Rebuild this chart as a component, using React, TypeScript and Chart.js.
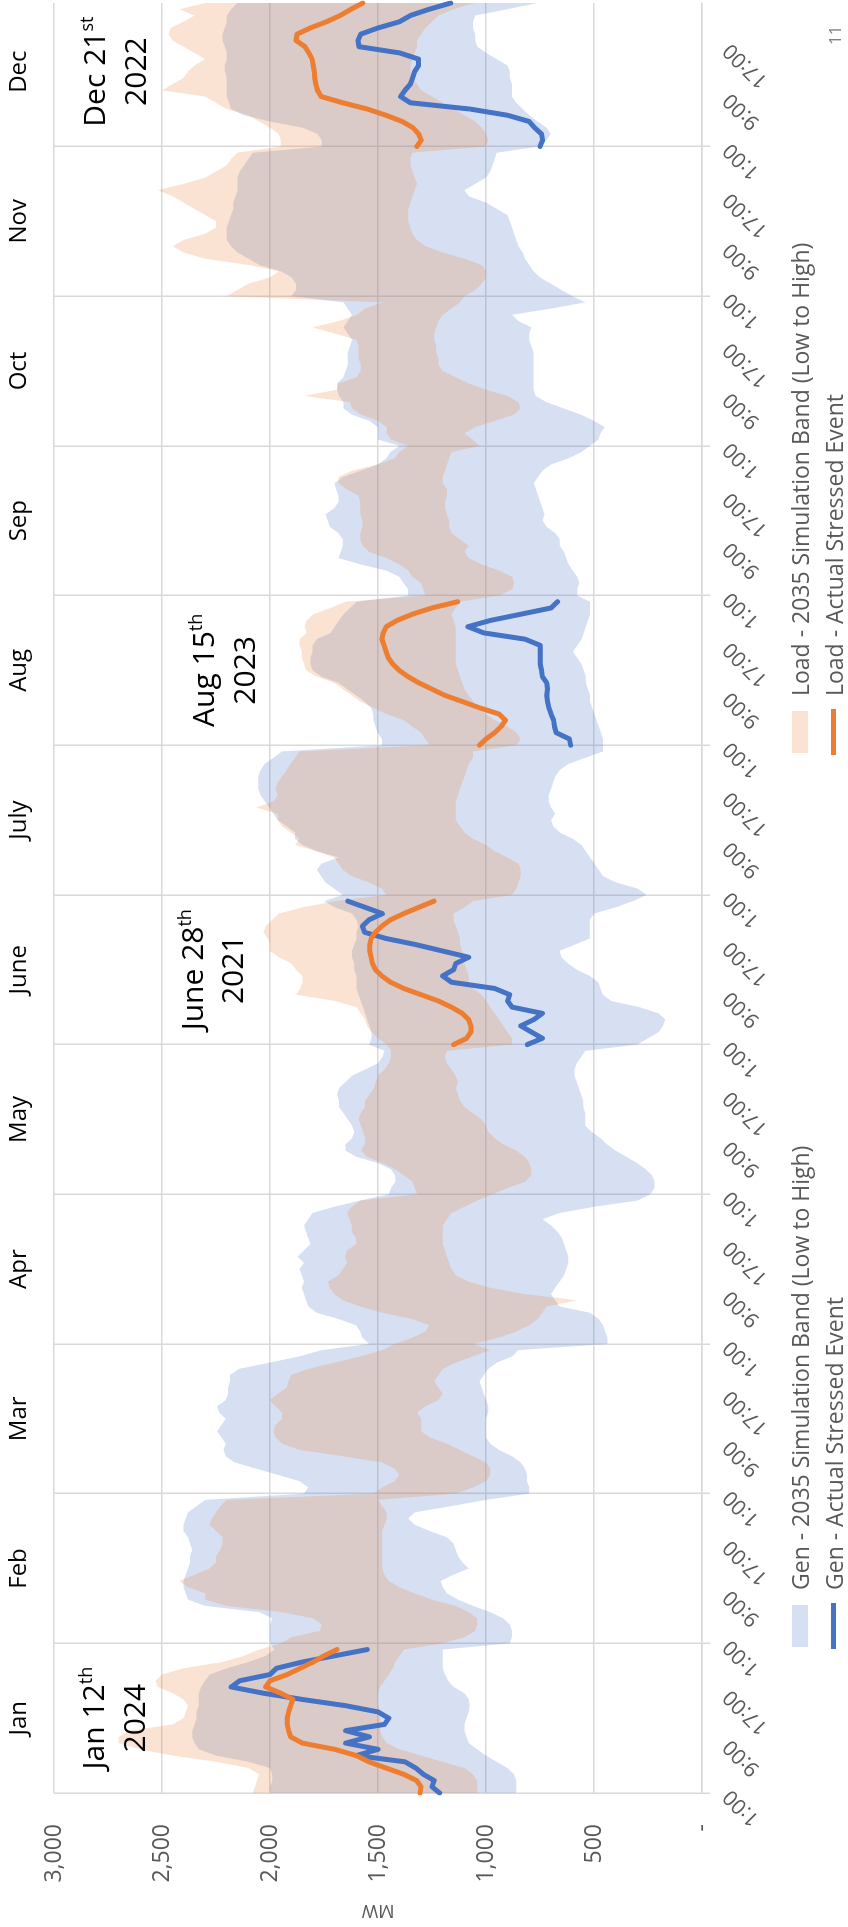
import React, { useEffect, useRef } from "react";
import { Chart, registerables } from "chart.js";

Chart.register(...registerables);
Chart.defaults.font.family = "'Open Sans', 'DejaVu Sans', sans-serif";

// ---------- categories / tick labels ----------
const MONTHS = ["Jan", "Feb", "Mar", "Apr", "May", "June", "July", "Aug", "Sep", "Oct", "Nov", "Dec"];
const HOUR_LABELS = [
  "1:00", "2:00", "3:00", "4:00", "5:00", "6:00", "7:00", "8:00", "9:00", "10:00", "11:00", "12:00",
  "13:00", "14:00", "15:00", "16:00", "17:00", "18:00", "19:00", "20:00", "21:00", "22:00", "23:00", "24:00",
];
const Y_TICKS = [0, 500, 1000, 1500, 2000, 2500, 3000];

// ---------- 2035 simulation bands (MW), 24 hourly values per month ----------
const GEN_LOW = [
  860, 860, 860, 870, 900, 950, 1000, 1040, 1080, 1090, 1100, 1100, 1090, 1080, 1075, 1080, 1100, 1150, 1175, 1190, 1200, 1200, 1200, 1200, // Jan
  890, 880, 880, 890, 920, 980, 1060, 1130, 1180, 1200, 1210, 1150, 1080, 1110, 1130, 1140, 1150, 1180, 1260, 1330, 1360, 1330, 1160, 1000, // Feb
  800, 800, 810, 810, 820, 840, 880, 940, 980, 1000, 1000, 1000, 1000, 990, 990, 1000, 1010, 1020, 1030, 1010, 990, 950, 880, 850, // Mar
  438, 438, 448, 458, 478, 518, 659, 679, 699, 679, 659, 639, 629, 619, 619, 629, 639, 649, 669, 699, 739, 659, 498, 297, // Apr
  240, 220, 220, 230, 260, 300, 350, 400, 440, 470, 510, 540, 540, 540, 550, 550, 560, 570, 580, 590, 590, 580, 560, 540, // May
  300, 250, 200, 180, 170, 200, 290, 420, 460, 470, 480, 520, 580, 620, 650, 660, 590, 520, 520, 520, 520, 500, 400, 320, // June
  257, 297, 398, 458, 478, 498, 518, 538, 558, 598, 659, 689, 699, 679, 699, 709, 709, 699, 689, 679, 659, 618, 538, 458, // July
  458, 458, 468, 478, 488, 498, 508, 518, 518, 528, 538, 538, 548, 558, 578, 598, 578, 558, 548, 538, 528, 518, 518, 518, // Aug
  578, 578, 568, 578, 598, 618, 629, 639, 659, 659, 679, 719, 739, 729, 739, 749, 759, 769, 779, 759, 739, 699, 618, 558, // Sep
  520, 480, 470, 450, 500, 560, 640, 720, 770, 780, 780, 780, 780, 780, 780, 780, 790, 800, 800, 790, 850, 880, 700, 540, // Oct
  600, 650, 700, 750, 780, 800, 820, 830, 850, 860, 870, 880, 890, 900, 950, 1000, 1080, 1100, 1050, 1000, 980, 970, 960, 950, // Nov
  750, 720, 700, 720, 760, 800, 830, 860, 880, 880, 880, 890, 890, 900, 950, 1000, 1040, 1050, 1050, 1060, 1060, 1050, 900, 760, // Dec
];
const GEN_HIGH = [
  2000, 2000, 1990, 1990, 2000, 2100, 2250, 2330, 2350, 2360, 2360, 2350, 2340, 2340, 2330, 2330, 2330, 2320, 2300, 2280, 2200, 2100, 2020, 1980, // Jan
  2000, 2000, 2000, 2000, 1990, 2050, 2300, 2380, 2390, 2400, 2400, 2390, 2380, 2370, 2370, 2360, 2370, 2380, 2400, 2400, 2390, 2380, 2340, 2300, // Feb
  1843, 1823, 1863, 1963, 2064, 2164, 2205, 2215, 2205, 2225, 2245, 2225, 2205, 2235, 2245, 2205, 2195, 2195, 2185, 2185, 2145, 2004, 1863, 1763, // Mar
  1542, 1572, 1582, 1602, 1683, 1783, 1823, 1833, 1843, 1853, 1843, 1853, 1863, 1843, 1873, 1843, 1813, 1823, 1833, 1843, 1823, 1803, 1703, 1582, // Apr
  1450, 1440, 1420, 1420, 1440, 1500, 1600, 1650, 1650, 1620, 1610, 1620, 1640, 1660, 1680, 1680, 1690, 1680, 1650, 1620, 1560, 1500, 1480, 1470, // May
  1540, 1530, 1530, 1540, 1550, 1560, 1570, 1580, 1590, 1600, 1600, 1600, 1610, 1610, 1620, 1620, 1610, 1600, 1600, 1590, 1600, 1620, 1700, 1750, // June
  1663, 1703, 1743, 1763, 1783, 1763, 1683, 1783, 1850, 1884, 1884, 1924, 1964, 1984, 2004, 2024, 2044, 2054, 2054, 2054, 2044, 2024, 1984, 1944, // July
  1482, 1482, 1502, 1512, 1522, 1522, 1532, 1562, 1602, 1643, 1683, 1763, 1803, 1813, 1813, 1803, 1803, 1783, 1720, 1700, 1680, 1660, 1630, 1600, // Aug
  1361, 1361, 1382, 1402, 1462, 1582, 1683, 1673, 1663, 1663, 1683, 1723, 1733, 1743, 1703, 1683, 1683, 1693, 1703, 1663, 1582, 1502, 1462, 1442, // Sep
  1400, 1500, 1500, 1500, 1540, 1620, 1660, 1660, 1680, 1690, 1690, 1660, 1650, 1640, 1640, 1640, 1630, 1620, 1640, 1660, 1640, 1620, 1640, 1660, // Oct
  1900, 1880, 1880, 1900, 1950, 2050, 2100, 2150, 2180, 2200, 2200, 2200, 2190, 2180, 2170, 2170, 2160, 2150, 2150, 2150, 2140, 2120, 2100, 2080, // Nov
  1760, 1760, 1780, 1850, 2000, 2120, 2180, 2190, 2200, 2200, 2200, 2200, 2210, 2210, 2200, 2200, 2210, 2220, 2220, 2210, 2200, 2200, 2180, 2150, // Dec
];
const LOAD_LOW = [
  1040, 1040, 1040, 1060, 1100, 1200, 1300, 1400, 1460, 1480, 1490, 1490, 1490, 1490, 1500, 1500, 1500, 1490, 1470, 1450, 1430, 1420, 1400, 1380, // Jan
  1200, 1100, 1050, 1040, 1040, 1080, 1140, 1250, 1330, 1400, 1450, 1470, 1480, 1480, 1480, 1480, 1480, 1480, 1480, 1470, 1460, 1460, 1480, 1500, // Feb
  1140, 1060, 1000, 980, 980, 1000, 1060, 1120, 1180, 1260, 1300, 1300, 1300, 1320, 1280, 1220, 1200, 1220, 1240, 1220, 1200, 1140, 1060, 980, // Mar
  1060, 940, 860, 800, 760, 740, 720, 578, 820, 980, 1080, 1140, 1160, 1170, 1180, 1190, 1200, 1200, 1200, 1200, 1180, 1160, 1100, 1040, // Apr
  970, 900, 820, 790, 790, 800, 820, 860, 920, 960, 990, 1000, 1020, 1060, 1100, 1120, 1130, 1140, 1130, 1140, 1160, 1180, 1190, 1180, // May
  880, 880, 900, 920, 940, 960, 980, 1000, 1020, 1060, 1080, 1080, 1090, 1100, 1100, 1110, 1120, 1120, 1130, 1140, 1150, 1150, 1100, 1060, // June
  880, 859, 849, 839, 839, 849, 900, 960, 1000, 1060, 1100, 1120, 1140, 1140, 1140, 1140, 1130, 1120, 1110, 1100, 1090, 1080, 1060, 1060, // July
  859, 839, 859, 900, 960, 1000, 1040, 1060, 1080, 1100, 1110, 1120, 1130, 1140, 1140, 1140, 1140, 1140, 1140, 1140, 1150, 1160, 1140, 1120, // Aug
  940, 879, 869, 879, 940, 1020, 1080, 1100, 1080, 1120, 1160, 1170, 1170, 1180, 1190, 1190, 1180, 1180, 1200, 1200, 1190, 1180, 1170, 1160, // Sep
  1030, 1060, 1100, 1050, 960, 870, 840, 850, 900, 1000, 1080, 1140, 1200, 1220, 1220, 1230, 1230, 1240, 1240, 1230, 1220, 1200, 1160, 1120, // Oct
  1100, 1050, 1020, 1000, 1000, 1020, 1100, 1200, 1280, 1320, 1340, 1350, 1360, 1360, 1360, 1350, 1340, 1330, 1320, 1330, 1340, 1350, 1350, 1340, // Nov
  1000, 990, 1000, 1020, 1050, 1100, 1150, 1200, 1250, 1300, 1320, 1340, 1350, 1350, 1340, 1330, 1320, 1320, 1300, 1280, 1250, 1220, 1150, 1050, // Dec
];
const LOAD_HIGH = [
  2080, 2070, 2060, 2050, 2100, 2250, 2450, 2600, 2700, 2700, 2650, 2450, 2400, 2390, 2380, 2400, 2450, 2520, 2530, 2500, 2400, 2220, 2120, 2050, // Jan
  1950, 1900, 1770, 1760, 1800, 1950, 2200, 2300, 2300, 2380, 2420, 2350, 2280, 2250, 2250, 2230, 2220, 2220, 2250, 2280, 2270, 2250, 2230, 2200, // Feb
  1522, 1482, 1422, 1402, 1422, 1482, 1663, 1863, 1944, 1974, 1984, 1974, 1944, 1944, 1974, 2004, 1964, 1924, 1914, 1904, 1823, 1703, 1582, 1482, // Mar
  1422, 1341, 1281, 1261, 1341, 1482, 1582, 1663, 1703, 1723, 1733, 1683, 1663, 1643, 1653, 1643, 1602, 1602, 1622, 1622, 1632, 1643, 1622, 1582, // Apr
  1320, 1330, 1340, 1380, 1420, 1480, 1550, 1580, 1560, 1560, 1570, 1580, 1590, 1580, 1560, 1560, 1540, 1520, 1510, 1500, 1470, 1450, 1440, 1440, // May
  1460, 1500, 1530, 1550, 1560, 1580, 1600, 1700, 1880, 1860, 1850, 1850, 1880, 1900, 1960, 2000, 2000, 2010, 2030, 2020, 1990, 1960, 1850, 1700, // June
  1462, 1482, 1542, 1622, 1663, 1683, 1703, 1783, 1884, 1863, 1904, 1944, 1964, 1964, 2064, 1984, 1964, 1974, 1964, 1944, 1924, 1904, 1884, 1863, // July
  1261, 1281, 1301, 1341, 1381, 1462, 1522, 1582, 1622, 1663, 1703, 1783, 1833, 1843, 1853, 1853, 1863, 1863, 1830, 1840, 1830, 1800, 1720, 1650, // Aug
  1281, 1290, 1301, 1341, 1361, 1402, 1462, 1542, 1572, 1582, 1582, 1572, 1572, 1582, 1582, 1582, 1592, 1643, 1683, 1683, 1622, 1502, 1422, 1402, // Sep
  1360, 1440, 1460, 1460, 1500, 1580, 1620, 1630, 1843, 1690, 1683, 1600, 1580, 1580, 1590, 1590, 1590, 1600, 1700, 1803, 1680, 1600, 1560, 1480, // Oct
  2200, 2150, 2100, 2000, 1960, 2100, 2300, 2400, 2450, 2400, 2300, 2250, 2250, 2300, 2350, 2400, 2450, 2520, 2400, 2300, 2250, 2200, 2180, 2150, // Nov
  1950, 1950, 1960, 2000, 2050, 2100, 2200, 2250, 2300, 2500, 2450, 2400, 2380, 2350, 2300, 2350, 2400, 2450, 2470, 2460, 2400, 2350, 2420, 2300, // Dec
];

// ---------- actual stressed events (MW), one day each ----------
const EVENT_MONTHS = [0, 5, 7, 11]; // Jan, June, Aug, Dec
const GEN_EVENT_JAN = [1215, 1250, 1240, 1290, 1325, 1375, 1600, 1500, 1650, 1540, 1650, 1470, 1450, 1500, 1650, 1850, 2030, 2180, 2140, 2000, 1970, 1850, 1700, 1550];
const GEN_EVENT_JUN = [809, 739, 789, 839, 779, 739, 879, 900, 890, 960, 1160, 1201, 1150, 1140, 1080, 1201, 1321, 1462, 1562, 1572, 1542, 1480, 1560, 1640];
const GEN_EVENT_AUG = [608, 614, 675, 683, 687, 699, 709, 715, 719, 715, 719, 739, 743, 749, 749, 749, 749, 819, 1010, 1084, 980, 839, 699, 669];
const GEN_EVENT_DEC = [750, 738, 743, 775, 800, 900, 1075, 1350, 1395, 1375, 1350, 1340, 1330, 1312, 1312, 1400, 1588, 1593, 1580, 1500, 1400, 1350, 1263, 1163];
const LOAD_EVENT_JAN = [1305, 1301, 1321, 1381, 1462, 1542, 1600, 1700, 1850, 1904, 1914, 1920, 1920, 1914, 1904, 1894, 1950, 2020, 2000, 1920, 1860, 1800, 1750, 1690];
const LOAD_EVENT_JUN = [1150, 1090, 1070, 1070, 1080, 1110, 1160, 1221, 1301, 1381, 1442, 1482, 1512, 1526, 1532, 1538, 1538, 1532, 1512, 1482, 1442, 1381, 1311, 1241];
const LOAD_EVENT_AUG = [1030, 1000, 960, 930, 910, 940, 1030, 1110, 1191, 1251, 1311, 1361, 1402, 1432, 1452, 1462, 1472, 1482, 1476, 1462, 1412, 1341, 1251, 1131];
const LOAD_EVENT_DEC = [1320, 1300, 1312, 1338, 1388, 1463, 1550, 1663, 1763, 1780, 1788, 1793, 1795, 1800, 1805, 1820, 1838, 1880, 1875, 1813, 1738, 1675, 1625, 1570];
const GEN_EVENTS = [GEN_EVENT_JAN, GEN_EVENT_JUN, GEN_EVENT_AUG, GEN_EVENT_DEC];
const LOAD_EVENTS = [LOAD_EVENT_JAN, LOAD_EVENT_JUN, LOAD_EVENT_AUG, LOAD_EVENT_DEC];

// ---------- event annotations ----------
const NOTE_MAIN = ["Jan 12", "June 28", "Aug 15", "Dec 21"];
const NOTE_SUP = ["th", "th", "th", "st"];
const NOTE_YEAR = ["2024", "2021", "2023", "2022"];
const NOTE_MW_LINE1 = [2769, 2310, 2259, 2764];
const NOTE_MW_LINE2 = [2579, 2125, 2069, 2574];

// ---------- names & styles ----------
const SERIES_NAMES = [
  "Gen - 2035 Simulation Band (Low to High)",
  "Gen - Actual Stressed Event",
  "Load - 2035 Simulation Band (Low to High)",
  "Load - Actual Stressed Event",
];
const BLUE = "#4472C4";
const ORANGE = "#ED7D31";
const GEN_FILL = "rgba(68,114,196,0.22)";
const LOAD_FILL = "rgba(237,125,49,0.21)";
const GRID = "#d9d9d9";
const TEXT_GRAY = "#595959";
const NONE = "rgba(0,0,0,0)";

// build table from the arrays above
const LABELS: string[] = MONTHS.flatMap((m) => HOUR_LABELS.map((h) => `${m} ${h}`));
function eventSeries(events: number[][]): (number | null)[] {
  return MONTHS.flatMap((_, mi) => {
    const k = EVENT_MONTHS.indexOf(mi);
    return HOUR_LABELS.map((_, hi) => (k >= 0 ? events[k][hi] : null));
  });
}

const notesPlugin = {
  id: "eventNotes",
  afterDatasetsDraw(chart: any) {
    const ctx = chart.ctx as CanvasRenderingContext2D;
    const xs = chart.scales.x;
    const ys = chart.scales.y;
    ctx.save();
    ctx.fillStyle = "#000";
    ctx.textBaseline = "alphabetic";
    EVENT_MONTHS.forEach((m, i) => {
      const cx = xs.getPixelForValue(m * HOUR_LABELS.length + 12);
      const y1 = ys.getPixelForValue(NOTE_MW_LINE1[i]);
      const y2 = ys.getPixelForValue(NOTE_MW_LINE2[i]);
      ctx.font = "30px 'Open Sans'";
      const wMain = ctx.measureText(NOTE_MAIN[i]).width;
      ctx.font = "18px 'Open Sans'";
      const wSup = ctx.measureText(NOTE_SUP[i]).width;
      const x0 = cx - (wMain + wSup) / 2;
      ctx.textAlign = "left";
      ctx.font = "30px 'Open Sans'";
      ctx.fillText(NOTE_MAIN[i], x0, y1);
      ctx.font = "18px 'Open Sans'";
      ctx.fillText(NOTE_SUP[i], x0 + wMain, y1 - 12);
      ctx.font = "30px 'Open Sans'";
      ctx.textAlign = "center";
      ctx.fillText(NOTE_YEAR[i], cx, y2);
    });
    ctx.restore();
  },
};

export default function App() {
  const canvasRef = useRef<HTMLCanvasElement>(null);

  useEffect(() => {
    const hours = HOUR_LABELS.length;
    const chart = new Chart(canvasRef.current as HTMLCanvasElement, {
      type: "line",
      data: {
        labels: LABELS,
        datasets: [
          { label: "gen-low", data: GEN_LOW, borderColor: NONE, borderWidth: 0, pointRadius: 0, fill: false, order: 4 },
          { label: SERIES_NAMES[0], data: GEN_HIGH, borderColor: NONE, borderWidth: 0, pointRadius: 0, backgroundColor: GEN_FILL, fill: "-1", order: 4 },
          { label: "load-low", data: LOAD_LOW, borderColor: NONE, borderWidth: 0, pointRadius: 0, fill: false, order: 3 },
          { label: SERIES_NAMES[2], data: LOAD_HIGH, borderColor: NONE, borderWidth: 0, pointRadius: 0, backgroundColor: LOAD_FILL, fill: "-1", order: 3 },
          { label: SERIES_NAMES[1], data: eventSeries(GEN_EVENTS), borderColor: BLUE, borderWidth: 5, pointRadius: 0, fill: false, spanGaps: false, order: 2, borderJoinStyle: "round", borderCapStyle: "round" },
          { label: SERIES_NAMES[3], data: eventSeries(LOAD_EVENTS), borderColor: ORANGE, borderWidth: 5, pointRadius: 0, fill: false, spanGaps: false, order: 1, borderJoinStyle: "round", borderCapStyle: "round" },
        ] as any,
      },
      options: {
        animation: false,
        responsive: false,
        events: [],
        layout: { padding: { left: 0, right: 3, top: 0, bottom: 66 } },
        plugins: { legend: { display: false }, tooltip: { enabled: false } },
        elements: { line: { tension: 0 } },
        scales: {
          x: {
            type: "category",
            position: "bottom",
            offset: false,
            border: { display: true, color: GRID, width: 1.5 },
            grid: {
              offset: false,
              lineWidth: 1.5,
              tickLength: 8,
              color: (c: any) => (c.tick && Number(c.tick.value) % hours === 0 ? GRID : NONE),
            },
            ticks: {
              autoSkip: false,
              minRotation: 45,
              maxRotation: 45,
              padding: 8,
              color: TEXT_GRAY,
              font: { size: 21 },
              callback: (_v: any, i: number) => (i % 8 === 0 ? HOUR_LABELS[i % hours] : null),
            },
            afterFit: (s: any) => {
              s.height = 80;
            },
          },
          x2: {
            type: "category",
            position: "top",
            offset: false,
            grid: { display: false },
            border: { display: false },
            ticks: {
              autoSkip: false,
              minRotation: 0,
              maxRotation: 0,
              padding: 12,
              color: "#000",
              font: { size: 24 },
              callback: (_v: any, i: number) => (i % hours === 12 ? MONTHS[Math.floor(i / hours)] : null),
            },
            afterFit: (s: any) => {
              s.height = 54;
            },
          },
          y: {
            min: Y_TICKS[0],
            max: Y_TICKS[Y_TICKS.length - 1],
            border: { display: false },
            grid: { color: GRID, lineWidth: 1.5, drawTicks: false },
            ticks: {
              stepSize: Y_TICKS[1] - Y_TICKS[0],
              padding: 31,
              color: TEXT_GRAY,
              font: { size: 23 },
              callback: (v: any) => (Number(v) === 0 ? "-" : Number(v).toLocaleString("en-US")),
            },
            title: { display: true, text: "MW", color: TEXT_GRAY, font: { size: 18 }, padding: { top: 6, bottom: 0 } },
            afterFit: (s: any) => {
              s.width = 134;
            },
          },
        },
      } as any,
      plugins: [notesPlugin],
    });
    return () => chart.destroy();
  }, []);

  const legendText: React.CSSProperties = {
    position: "absolute",
    fontSize: 23,
    lineHeight: "30px",
    color: TEXT_GRAY,
    whiteSpace: "nowrap",
  };

  return (
    <div style={{ position: "fixed", left: 0, top: 0, width: 848, height: 1927, overflow: "hidden", background: "#fff" }}>
      <div
        style={{
          position: "absolute",
          left: 0,
          top: 0,
          width: 1927,
          height: 848,
          transformOrigin: "0 0",
          transform: "translateY(1927px) rotate(-90deg)",
          fontFamily: "'Open Sans', sans-serif",
          background: "#fff",
        }}
      >
        <canvas ref={canvasRef} width={1927} height={848} style={{ position: "absolute", left: 0, top: 0 }} />
        {/* legend */}
        <div style={{ position: "absolute", left: 280, top: 792, width: 42, height: 16, background: GEN_FILL }} />
        <div style={{ ...legendText, left: 337, top: 785 }}>{SERIES_NAMES[0]}</div>
        <div style={{ position: "absolute", left: 278, top: 831, width: 46, height: 5, background: BLUE }} />
        <div style={{ ...legendText, left: 337, top: 819 }}>{SERIES_NAMES[1]}</div>
        <div style={{ position: "absolute", left: 1174, top: 792, width: 42, height: 16, background: LOAD_FILL }} />
        <div style={{ ...legendText, left: 1231, top: 785 }}>{SERIES_NAMES[2]}</div>
        <div style={{ position: "absolute", left: 1172, top: 831, width: 46, height: 5, background: ORANGE }} />
        <div style={{ ...legendText, left: 1231, top: 819 }}>{SERIES_NAMES[3]}</div>
        <div style={{ position: "absolute", left: 1882, top: 823, fontSize: 17, color: "#7f7f7f" }}>11</div>
      </div>
    </div>
  );
}
